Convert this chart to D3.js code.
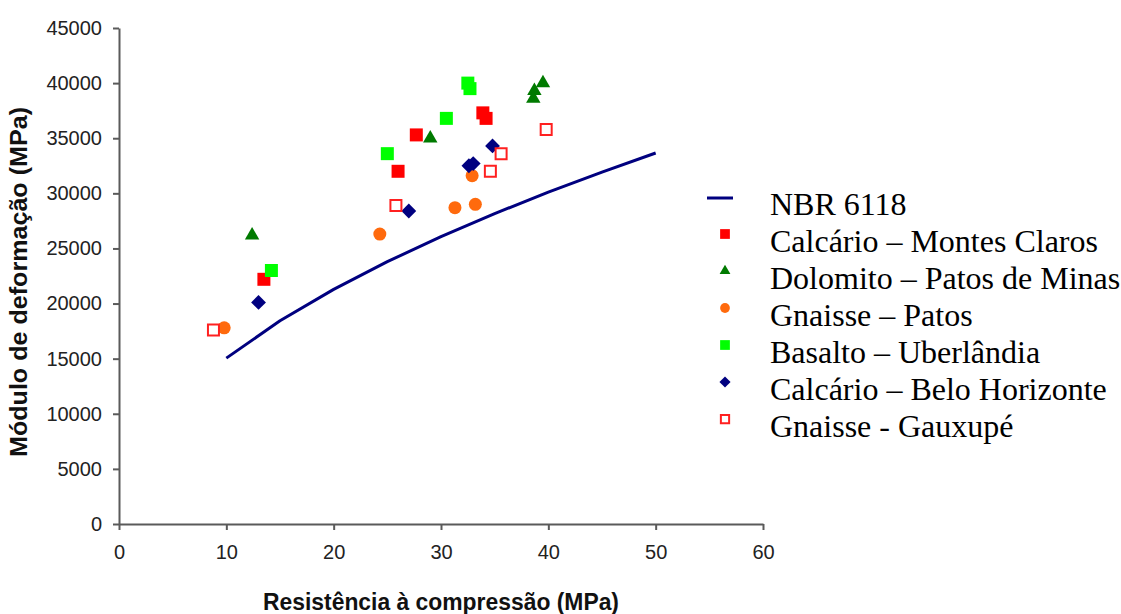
<!DOCTYPE html>
<html>
<head>
<meta charset="utf-8">
<script src="https://cdn.jsdelivr.net/npm/d3@7"></script>
<style>
  html, body { margin: 0; padding: 0; background: #fff; }
  svg { display: block; }
</style>
</head>
<body>
<svg id="chart" width="1121" height="614"></svg>
<script>
// Axis ticks
const xTicks = [0, 10, 20, 30, 40, 50, 60];
const yTicks = [0, 5000, 10000, 15000, 20000, 25000, 30000, 35000, 40000, 45000];

// NBR 6118 reference curve: [resistência (MPa), módulo (MPa)]
const nbr6118 = [[10, 15050], [15, 18440], [20, 21290], [25, 23800], [30, 26070],
                 [35, 28160], [40, 30110], [45, 31930], [50, 33660]];

// Ensaios por rocha: [resistência (MPa), módulo (MPa)]
const calcarioMontesClaros = [[13.5, 22200], [26.0, 32000], [27.7, 35300], [33.9, 37300], [34.2, 36800]];
const dolomitoPatosDeMinas = [[12.4, 26200], [29.0, 35000], [39.5, 40000], [38.7, 39300], [38.6, 38600]];
const gnaissePatos = [[9.8, 17800], [24.3, 26300], [31.3, 28700], [33.2, 29000], [32.9, 31600]];
const basaltoUberlandia = [[14.2, 23000], [25.0, 33600], [30.5, 36800], [32.5, 40000], [32.7, 39500]];
const calcarioBeloHorizonte = [[13.0, 20100], [27.0, 28400], [32.6, 32500], [33.0, 32700], [34.8, 34300]];
const gnaisseGauxupe = [[8.8, 17600], [25.8, 28900], [34.6, 32000], [35.6, 33600], [39.8, 35800]];

const legendLabels = ["NBR 6118", "Calcário – Montes Claros", "Dolomito – Patos de Minas",
  "Gnaisse – Patos", "Basalto – Uberlândia", "Calcário – Belo Horizonte", "Gnaisse - Gauxupé"];

const svg = d3.select("#chart");
const x = d3.scaleLinear().domain([0, 60]).range([119, 763]);
const y = d3.scaleLinear().domain([0, 45000]).range([524, 28]);

const axisColor = "#5a5a5a";
const tickFont = "Liberation Sans, Arial, sans-serif";

// Axes
const gx = svg.append("g").attr("transform", `translate(0,${y(0)})`)
  .call(d3.axisBottom(x).tickValues(xTicks).tickFormat(d3.format("d"))
    .tickSize(6).tickPadding(15).tickSizeOuter(0));
const gy = svg.append("g").attr("transform", `translate(${x(0)},0)`)
  .call(d3.axisLeft(y).tickValues(yTicks).tickFormat(d3.format("d"))
    .tickSize(6).tickPadding(11).tickSizeOuter(0));
[gx, gy].forEach(g => {
  g.select(".domain").attr("stroke", axisColor).attr("stroke-width", 2);
  g.selectAll(".tick line").attr("stroke", axisColor).attr("stroke-width", 2);
  g.selectAll(".tick text").attr("fill", "#222").attr("font-family", tickFont)
    .attr("font-size", 20);
});
gx.selectAll(".tick text").attr("dy", "0.71em");

// Axis titles
svg.append("text").attr("x", (x(0) + x(60)) / 2).attr("y", 610)
  .attr("text-anchor", "middle").attr("font-family", tickFont).attr("font-weight", "bold")
  .attr("font-size", 23).attr("fill", "#111")
  .attr("textLength", 356).attr("lengthAdjust", "spacingAndGlyphs")
  .text("Resistência à compressão (MPa)");
svg.append("text").attr("transform", "translate(27,282) rotate(-90)")
  .attr("text-anchor", "middle").attr("font-family", tickFont).attr("font-weight", "bold")
  .attr("font-size", 23).attr("fill", "#111")
  .attr("textLength", 350).attr("lengthAdjust", "spacingAndGlyphs")
  .text("Módulo de deformação (MPa)");

// NBR 6118 curve
const lineColor = "#00007f";
svg.append("path").datum(nbr6118)
  .attr("fill", "none").attr("stroke", lineColor).attr("stroke-width", 3)
  .attr("stroke-linejoin", "round")
  .attr("d", d3.line().x(d => x(d[0])).y(d => y(d[1])));

// Marker styles per series
const seriesDefs = [
  { data: calcarioMontesClaros, type: d3.symbolSquare, size: 169, fill: "#ff0000" },
  { data: dolomitoPatosDeMinas, type: d3.symbolTriangle, size: 90, fill: "#007a00" },
  { data: gnaissePatos, type: d3.symbolCircle, size: 133, fill: "#ff6a0d" },
  { data: basaltoUberlandia, type: d3.symbolSquare, size: 169, fill: "#00ff00" },
  { data: calcarioBeloHorizonte, type: d3.symbolSquare, size: 110, fill: "#000080", rotate: 45 },
  { data: gnaisseGauxupe, type: d3.symbolSquare, size: 121, fill: "#fff", stroke: "#ff2020" }
];

function drawMarker(g, def, cx, cy, scale) {
  g.append("path")
    .attr("d", d3.symbol().type(def.type).size(def.size * scale * scale)())
    .attr("transform", `translate(${cx},${cy})` + (def.rotate ? ` rotate(${def.rotate})` : ""))
    .attr("fill", def.fill)
    .attr("stroke", def.stroke || "none")
    .attr("stroke-width", def.stroke ? 2 : 0);
}

const marks = svg.append("g");
seriesDefs.forEach(def => {
  def.data.forEach(d => drawMarker(marks, def, x(d[0]), y(d[1]), 1));
});

// Legend
const legend = svg.append("g");
const rowY = [215, 252, 289, 326, 363, 400, 437];
legend.append("line").attr("x1", 707).attr("x2", 733).attr("y1", 198).attr("y2", 198)
  .attr("stroke", lineColor).attr("stroke-width", 3);
seriesDefs.forEach((def, i) => {
  drawMarker(legend, def, 725, rowY[i + 1] - 18, 0.75);
});
legend.selectAll("text.lab").data(legendLabels).join("text")
  .attr("class", "lab")
  .attr("x", 770).attr("y", (d, i) => rowY[i])
  .attr("font-family", "Liberation Serif, 'Times New Roman', serif")
  .attr("font-size", 32).attr("fill", "#000")
  .text(d => d);
</script>
</body>
</html>
